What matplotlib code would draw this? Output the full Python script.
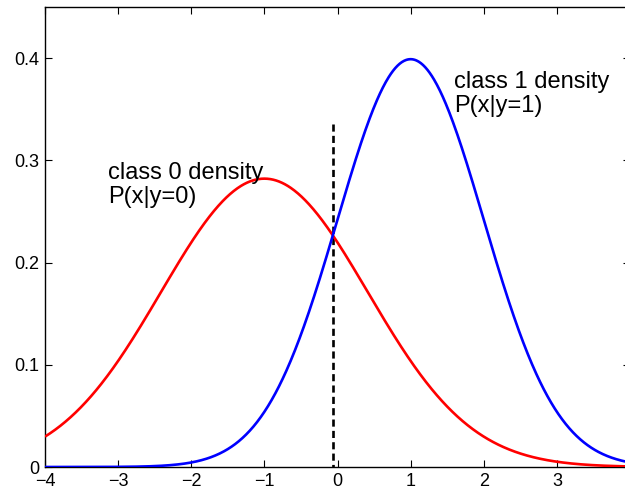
import numpy as np
import matplotlib
matplotlib.use("Agg")
import matplotlib.pyplot as plt

plt.rcParams['font.family'] = ['Liberation Sans', 'DejaVu Sans']

# Class-conditional Gaussian densities P(x|y)
class_labels = [["class 0 density", "P(x|y=0)"],
                ["class 1 density", "P(x|y=1)"]]
class_means = [-1.0, 1.0]
class_stds = [np.sqrt(2.0), 1.0]
class_colors = ["#ff0000", "#0000ff"]
label_x = [-3.14, 1.595]
label_baselines = [[0.282, 0.2585], [0.3703, 0.3468]]

boundary_top = 0.336
x_ticks = [-4, -3, -2, -1, 0, 1, 2, 3]
y_ticks = [0, 0.1, 0.2, 0.3, 0.4]
x_range = (-4, 4)
y_range = (0, 0.45)


def gauss_pdf(x, mu, sd):
    return np.exp(-0.5 * ((x - mu) / sd) ** 2) / (sd * np.sqrt(2 * np.pi))


fig = plt.figure(figsize=(6.25, 4.91), dpi=100)
ax = fig.add_axes([45 / 625, 24 / 491, (630 - 45) / 625, (467 - 7) / 491])

xs = np.linspace(x_range[0], x_range[1], 801)
dens = []
for mu, sd, col in zip(class_means, class_stds, class_colors):
    d = gauss_pdf(xs, mu, sd)
    dens.append(d)
    ax.plot(xs, d, color=col, lw=1.9, solid_capstyle='butt', zorder=3)

# decision boundary where the two densities cross
diff = dens[0] - dens[1]
mid = (xs > -1) & (xs < 1)
i = np.where(mid[:-1] & (np.sign(diff[:-1]) != np.sign(diff[1:])))[0][0]
x_b = xs[i] - diff[i] * (xs[i + 1] - xs[i]) / (diff[i + 1] - diff[i])
ax.plot([x_b, x_b], [boundary_top, 0], color='black', lw=1.9,
        linestyle=(0, (2.7, 1.6)), dash_capstyle='butt', zorder=2,
        clip_on=False)

for tx, lines, ys in zip(label_x, class_labels, label_baselines):
    for line, ty in zip(lines, ys):
        ax.text(tx, ty, line, fontsize=17, ha='left', va='baseline',
                color='black')

ax.set_xlim(*x_range)
ax.set_ylim(*y_range)
ax.set_xticks(x_ticks)
ax.set_yticks(y_ticks)
ax.set_xticklabels([f"{t:g}".replace('-', '\u2212') for t in x_ticks])
ax.set_yticklabels([f"{t:g}" for t in y_ticks])
ax.tick_params(direction='in', length=5, width=0.8, labelsize=13,
               top=True, right=True, pad=4)
for s in ax.spines.values():
    s.set_linewidth(1.0)

fig.savefig("out.png", dpi=100)
